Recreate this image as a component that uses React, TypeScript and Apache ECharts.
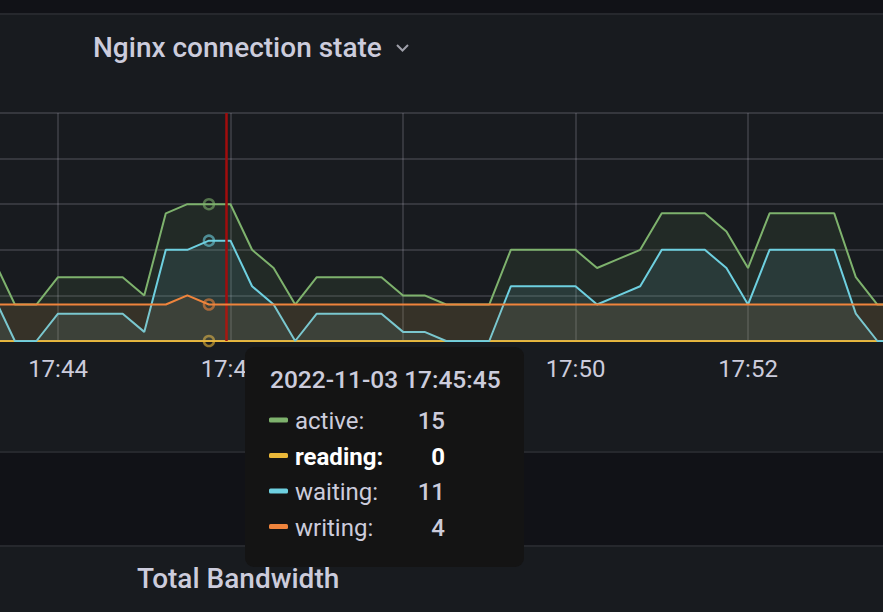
import React, { useEffect, useRef } from "react";
import * as echarts from "echarts";

// ---- data ----
const START_TIME = "17:43:15";
const STEP_SECONDS = 15;
const seriesNames = ["active", "reading", "waiting", "writing"];
const seriesColors = ["#7EB26D", "#EAB839", "#6ED0E0", "#EF843C"];
const active = [9, 4, 4, 7, 7, 7, 7, 5, 14, 15, 15, 15, 10, 8, 4, 7, 7, 7, 7, 5, 5, 4, 4, 4, 10, 10, 10, 10, 8, 9, 10, 14, 14, 14, 12, 8, 14, 14, 14, 14, 7, 4, 4];
const reading = [0, 0, 0, 0, 0, 0, 0, 0, 0, 0, 0, 0, 0, 0, 0, 0, 0, 0, 0, 0, 0, 0, 0, 0, 0, 0, 0, 0, 0, 0, 0, 0, 0, 0, 0, 0, 0, 0, 0, 0, 0, 0, 0];
const waiting = [5, 0, 0, 3, 3, 3, 3, 1, 10, 10, 11, 11, 6, 4, 0, 3, 3, 3, 3, 1, 1, 0, 0, 0, 6, 6, 6, 6, 4, 5, 6, 10, 10, 10, 8, 4, 10, 10, 10, 10, 3, 0, 0];
const writing = [4, 4, 4, 4, 4, 4, 4, 4, 4, 5, 4, 4, 4, 4, 4, 4, 4, 4, 4, 4, 4, 4, 4, 4, 4, 4, 4, 4, 4, 4, 4, 4, 4, 4, 4, 4, 4, 4, 4, 4, 4, 4, 4];
const AXIS_MIN = "17:42:00";
const AXIS_MAX = "17:54:00";
const TICK_SECONDS = 120;
const Y_MAX = 25;
const Y_INTERVAL = 5;
const HOVER_DATE = "2022-11-03";
const HOVER_TIME = "17:45:45";
const CROSSHAIR_TIME = "17:45:57";
const PANEL_TITLE = "Nginx connection state";
const NEXT_PANEL_TITLE = "Total Bandwidth";

const toSec = (s: string) => {
  const [h, m, x] = s.split(":").map(Number);
  return h * 3600 + m * 60 + (x || 0);
};
const pad = (n: number) => String(n).padStart(2, "0");
const fmt = (sec: number) => `${pad(Math.floor(sec / 3600))}:${pad(Math.floor((sec % 3600) / 60))}`;

const TEXT = "#ccccdc";
const FONT = "Roboto, 'Noto Sans', sans-serif";

export default function App() {
  const ref = useRef<HTMLDivElement>(null);
  useEffect(() => {
    if (!ref.current) return;
    const chart = echarts.init(ref.current, null, { renderer: "svg" });
    const allValues = [active, reading, waiting, writing];
    const start = toSec(START_TIME);
    const times = active.map((_, i) => start + i * STEP_SECONDS);
    const hoverIdx = times.indexOf(toSec(HOVER_TIME));

    const fade = (hex: string, a: number) => {
      const r = parseInt(hex.slice(1, 3), 16), g = parseInt(hex.slice(3, 5), 16), b = parseInt(hex.slice(5, 7), 16);
      return `rgba(${r},${g},${b},${a})`;
    };

    const series = allValues.map((vals, si) => ({
      name: seriesNames[si],
      type: "line",
      symbol: "none",
      showSymbol: true,
      silent: true,
      color: seriesColors[si],
      lineStyle: { width: 2, color: seriesColors[si] },
      areaStyle: { opacity: 0.1, color: seriesColors[si] },
      emphasis: { disabled: true },
      data: vals.map((v, i) =>
        i === hoverIdx
          ? {
              value: [times[i], v],
              symbol: "circle",
              symbolSize: 10,
              itemStyle: { color: "rgba(0,0,0,0)", borderColor: fade(seriesColors[si], 0.6), borderWidth: 2.5 },
            }
          : { value: [times[i], v] }
      ),
      z: 2 + si,
      markLine:
        si === 0
          ? {
              silent: true,
              symbol: ["none", "none"],
              label: { show: false },
              lineStyle: { color: "#a00d0d", width: 2.5, type: "solid" },
              data: [{ xAxis: toSec(CROSSHAIR_TIME) }],
            }
          : undefined,
    }));

    // tooltip box
    const tipX = 245, tipY = 347, tipW = 279, tipH = 220;
    const rowYs = [421, 456.5, 492, 527.5];
    const tipChildren: any[] = [
      { type: "rect", shape: { x: tipX, y: tipY, width: tipW, height: tipH, r: 9 }, style: { fill: "#141414" } },
      {
        type: "text",
        x: 270,
        y: 379,
        style: { text: `${HOVER_DATE} ${HOVER_TIME}`, fill: TEXT, font: `500 24.5px ${FONT}`, verticalAlign: "middle", align: "left" },
      },
    ];
    seriesNames.forEach((name, si) => {
      const bold = name === "reading";
      const y = rowYs[si];
      tipChildren.push(
        { type: "rect", shape: { x: 269, y: y - 3.5, width: 19, height: 5, r: 1.5 }, style: { fill: seriesColors[si] } },
        {
          type: "text",
          x: 295,
          y,
          style: { text: `${name}:`, fill: bold ? "#ffffff" : TEXT, font: `${bold ? 700 : 400} 24px ${FONT}`, verticalAlign: "middle", align: "left" },
        },
        {
          type: "text",
          x: 445,
          y,
          style: { text: String(allValues[si][hoverIdx]), fill: bold ? "#ffffff" : TEXT, font: `${bold ? 700 : 500} 24px ${FONT}`, verticalAlign: "middle", align: "right" },
        }
      );
    });

    chart.setOption({
      animation: false,
      backgroundColor: "#181b1f",
      grid: { left: -114.5, right: -37.5, top: 113, bottom: 271, containLabel: false, outerBoundsMode: "none" },
      xAxis: {
        type: "value",
        min: toSec(AXIS_MIN),
        max: toSec(AXIS_MAX),
        interval: TICK_SECONDS,
        axisLine: { show: false },
        axisTick: { show: false },
        axisLabel: {
          color: TEXT,
          fontSize: 24,
          fontFamily: FONT,
          margin: 16,
          showMinLabel: false,
          showMaxLabel: false,
          formatter: (v: number) => fmt(v),
        },
        splitLine: { show: true, lineStyle: { color: "rgba(204,204,220,0.22)", width: 1.5 } },
      },
      yAxis: {
        type: "value",
        min: 0,
        max: Y_MAX,
        interval: Y_INTERVAL,
        axisLine: { show: false },
        axisTick: { show: false },
        axisLabel: { show: false },
        splitLine: { show: true, lineStyle: { color: "rgba(204,204,220,0.22)", width: 1.5 } },
      },
      series,
      graphic: [
        { type: "rect", z: 50, silent: true, shape: { x: 0, y: 0, width: 883, height: 13 }, style: { fill: "#111217" } },
        { type: "rect", z: 50, silent: true, shape: { x: 0, y: 13, width: 883, height: 2 }, style: { fill: "#26282d" } },
        { type: "rect", z: 50, silent: true, shape: { x: 0, y: 451, width: 883, height: 2 }, style: { fill: "#26282d" } },
        { type: "rect", z: 50, silent: true, shape: { x: 0, y: 453, width: 883, height: 92 }, style: { fill: "#111217" } },
        { type: "rect", z: 50, silent: true, shape: { x: 0, y: 545, width: 883, height: 2 }, style: { fill: "#26282d" } },
        {
          type: "text",
          z: 50,
          x: 93,
          y: 47,
          style: { text: PANEL_TITLE, fill: TEXT, font: `500 28px ${FONT}`, verticalAlign: "middle", align: "left" },
        },
        {
          type: "polyline",
          z: 50,
          shape: { points: [[397, 45], [402.5, 50.5], [408, 45]] },
          style: { stroke: "#9fa0aa", lineWidth: 2, fill: "none" },
        },
        {
          type: "text",
          z: 50,
          x: 137,
          y: 578,
          style: { text: NEXT_PANEL_TITLE, fill: TEXT, font: `500 28px ${FONT}`, verticalAlign: "middle", align: "left" },
        },
        { type: "group", z: 100, silent: true, children: tipChildren.map((c) => ({ ...c, z: 100 })) },
      ],
    });
    return () => chart.dispose();
  }, []);
  return <div ref={ref} style={{ position: "fixed", left: 0, top: 0, width: 883, height: 612 }} />;
}
